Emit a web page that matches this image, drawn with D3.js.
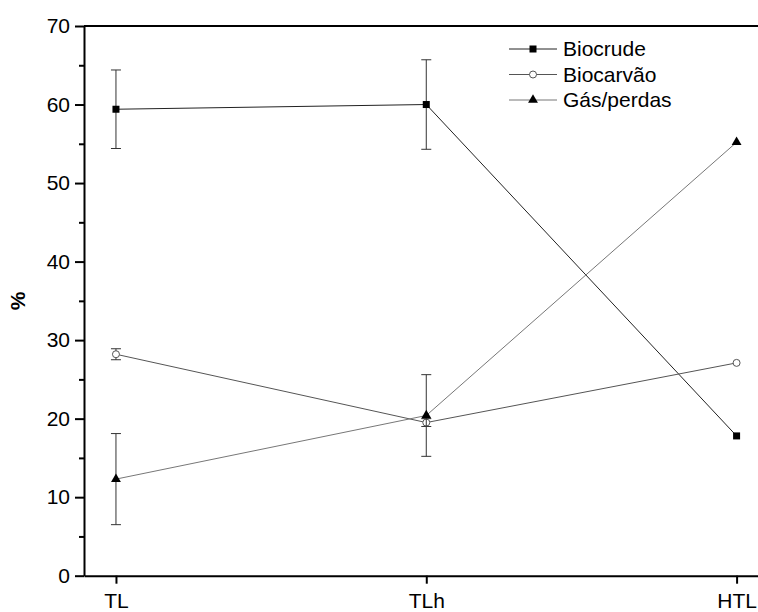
<!DOCTYPE html>
<html>
<head>
<meta charset="utf-8">
<script src="https://cdn.jsdelivr.net/npm/d3@7"></script>
<style>
  body { margin: 0; background: #fff; }
  svg { display: block; font-family: "Liberation Sans", Arial, sans-serif; }
</style>
</head>
<body>
<div id="chart"></div>
<script>
const width = 758;
const height = 612;

const categories = ["TL", "TLh", "HTL"];
const seriesNames = ["Biocrude", "Biocarvão", "Gás/perdas"];
const biocrude = [59.4, 60.0, 17.8];
const biocrudeErr = [5.0, 5.7, 0];
const biocarvao = [28.2, 19.5, 27.1];
const biocarvaoErr = [0.7, 0.5, 0];
const gas = [12.3, 20.4, 55.2];
const gasErr = [5.8, 5.2, 0];
const yTicks = [0, 10, 20, 30, 40, 50, 60, 70];
const yMinor = [5, 15, 25, 35, 45, 55, 65];

const svg = d3.select("#chart").append("svg").attr("width", width).attr("height", height);

const plotLeft = 84, plotTop = 26, plotBottom = 575.7;
// category axis runs past the right edge of the picture (clipped frame)
const x = d3.scaleLinear().domain([-0.103, 2.069]).range([plotLeft, width]);
const y = d3.scaleLinear().domain([0, 70]).range([plotBottom, plotTop]);

// top frame line
svg.append("line")
  .attr("x1", plotLeft).attr("x2", width)
  .attr("y1", y(70)).attr("y2", y(70))
  .attr("stroke", "#000").attr("stroke-width", 2);

// minor y ticks
svg.append("g")
  .attr("transform", `translate(${plotLeft},0)`)
  .call(d3.axisLeft(y).tickValues(yMinor).tickSize(5).tickFormat(""))
  .call((g) => g.select(".domain").remove())
  .selectAll("line").attr("stroke-width", 2);

const yAxis = svg.append("g")
  .attr("transform", `translate(${plotLeft},0)`)
  .call(d3.axisLeft(y).tickValues(yTicks).tickSize(9).tickSizeOuter(0).tickPadding(5));
yAxis.select(".domain").attr("stroke-width", 2);
yAxis.selectAll("line").attr("stroke-width", 2);
yAxis.selectAll("text").attr("font-size", 21).attr("fill", "#000")
  .attr("font-family", "'Liberation Sans', Arial, sans-serif");

const xAxis = svg.append("g")
  .attr("transform", `translate(0,${plotBottom})`)
  .call(d3.axisBottom(x).tickValues([0, 1, 2]).tickFormat((d) => categories[d])
    .tickSize(8).tickSizeOuter(0).tickPadding(9));
xAxis.select(".domain").attr("stroke-width", 2);
xAxis.selectAll("line").attr("stroke-width", 2);
xAxis.selectAll("text").attr("font-size", 21).attr("fill", "#000")
  .attr("font-family", "'Liberation Sans', Arial, sans-serif");

svg.append("text")
  .attr("transform", `translate(25,${(plotTop + plotBottom) / 2}) rotate(-90)`)
  .attr("text-anchor", "middle")
  .attr("font-size", 21)
  .attr("font-weight", "bold")
  .text("%");

const series = [
  { name: seriesNames[0], values: biocrude, err: biocrudeErr, color: "#222", marker: "square" },
  { name: seriesNames[1], values: biocarvao, err: biocarvaoErr, color: "#555", marker: "circle" },
  { name: seriesNames[2], values: gas, err: gasErr, color: "#777", marker: "triangle" }
];

const line = d3.line().x((d, i) => x(i)).y((d) => y(d));

function drawMarker(g, type, cx, cy) {
  if (type === "square") {
    g.append("rect").attr("x", cx - 3.5).attr("y", cy - 3.5).attr("width", 7).attr("height", 7).attr("fill", "#000");
  } else if (type === "circle") {
    g.append("circle").attr("cx", cx).attr("cy", cy).attr("r", 3.5)
      .attr("fill", "#fff").attr("stroke", "#555").attr("stroke-width", 1);
  } else {
    g.append("path")
      .attr("d", d3.symbol().type(d3.symbolTriangle).size(42)())
      .attr("transform", `translate(${cx},${cy})`)
      .attr("fill", "#000");
  }
}

series.forEach((s) => {
  const g = svg.append("g");
  g.append("path")
    .datum(s.values)
    .attr("d", line)
    .attr("fill", "none")
    .attr("stroke", s.color)
    .attr("stroke-width", 1);

  s.values.forEach((v, i) => {
    const e = s.err[i];
    if (e > 0) {
      const cx = x(i);
      g.append("line").attr("x1", cx).attr("x2", cx).attr("y1", y(v + e)).attr("y2", y(v - e))
        .attr("stroke", "#333").attr("stroke-width", 1);
      [v + e, v - e].forEach((t) => {
        g.append("line").attr("x1", cx - 5).attr("x2", cx + 5).attr("y1", y(t)).attr("y2", y(t))
          .attr("stroke", "#333").attr("stroke-width", 1);
      });
    }
    drawMarker(g, s.marker, x(i), y(v));
  });
});

// legend
const legend = svg.append("g");
series.forEach((s, i) => {
  const ly = 49 + i * 25.5;
  legend.append("line").attr("x1", 509).attr("x2", 557).attr("y1", ly).attr("y2", ly)
    .attr("stroke", s.color).attr("stroke-width", 1);
  drawMarker(legend, s.marker, 533, ly);
  legend.append("text").attr("x", 563).attr("y", ly + 7).attr("font-size", 21).text(s.name);
});
</script>
</body>
</html>
